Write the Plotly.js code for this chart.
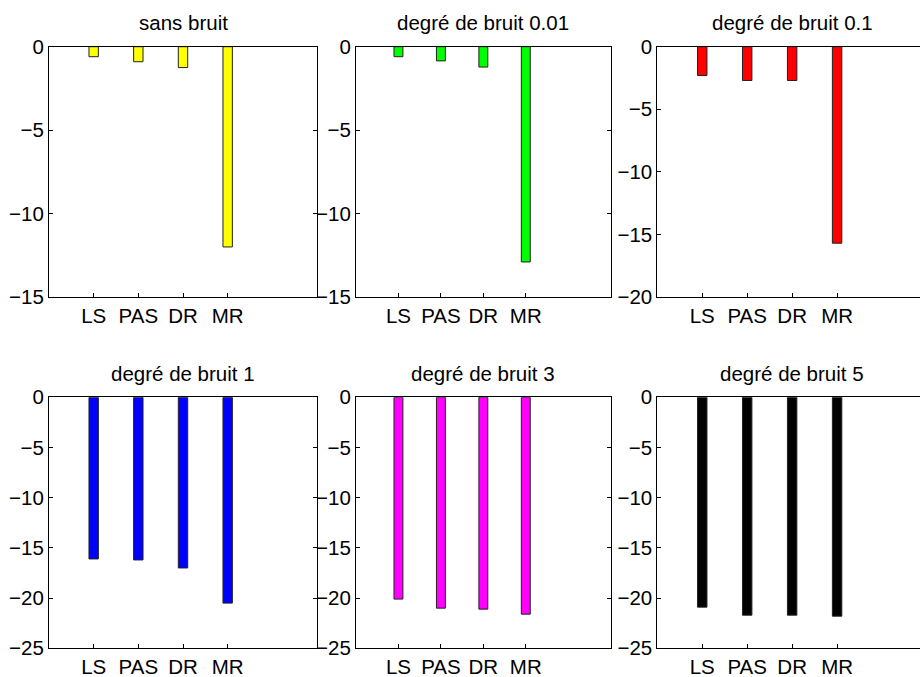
<!DOCTYPE html>
<html>
<head>
<meta charset="utf-8">
<script src="https://cdn.plot.ly/plotly-3.0.1.min.js"></script>
<style>
html,body{margin:0;padding:0;overflow:hidden;background:#fff;width:920px;height:677px;}
#wrap{width:920px;height:677px;overflow:hidden;position:relative;}
#chart{width:930px;height:677px;position:absolute;left:0;top:0;}
</style>
</head>
<body>
<div id="wrap"><div id="chart"></div></div>
<script>
// ---- data ----
const categories = ["LS", "PAS", "DR", "MR"];
const titles = ["sans bruit", "degré de bruit 0.01", "degré de bruit 0.1",
                "degré de bruit 1", "degré de bruit 3", "degré de bruit 5"];
const sansBruit = [-0.6, -0.9, -1.25, -12.0];
const bruit001  = [-0.6, -0.85, -1.22, -12.9];
const bruit01   = [-2.3, -2.7, -2.7, -15.7];
const bruit1    = [-16.1, -16.2, -17.0, -20.5];
const bruit3    = [-20.1, -21.0, -21.1, -21.6];
const bruit5    = [-20.9, -21.7, -21.7, -21.8];
const yMins     = [-15, -15, -20, -25, -25, -25];
const colors    = ["#ffff00", "#00ff00", "#ff0000", "#0000ff", "#ff00ff", "#000000"];

const series = [sansBruit, bruit001, bruit01, bruit1, bruit3, bruit5];

// ---- layout geometry (pixels) ----
const W = 930, H = 677;
const colPx = [[49, 317], [356, 610.7], [657.3, 927]];
const rowPx = [[46.7, 297], [397.3, 648.3]];
const titleY = [22, 373];

const FONT = "Liberation Sans, Arial, Helvetica, sans-serif";

const traces = [];
const layout = {
  width: W, height: H,
  margin: {l: 0, r: 0, t: 0, b: 0},
  paper_bgcolor: "#fff",
  plot_bgcolor: "#fff",
  showlegend: false,
  font: {family: FONT, size: 20.5, color: "#000"},
  annotations: []
};

series.forEach((vals, i) => {
  const r = Math.floor(i / 3), c = i % 3;
  const n = i + 1;
  const xa = "x" + (n === 1 ? "" : n), ya = "y" + (n === 1 ? "" : n);
  traces.push({
    type: "bar",
    x: categories,
    y: vals,
    xaxis: xa, yaxis: ya,
    width: 0.21,
    marker: {color: colors[i], line: {color: "#222", width: 1}},
    hoverinfo: "x+y"
  });
  const axisCommon = {
    showline: true, linecolor: "#000", linewidth: 1,
    ticks: "inside", ticklen: 4, tickcolor: "#000", tickwidth: 1,
    showgrid: false, zeroline: false, fixedrange: true,
    tickfont: {family: FONT, size: 20.5, color: "#000"}
  };
  layout["xaxis" + (n === 1 ? "" : n)] = Object.assign({}, axisCommon, {
    type: "category",
    categoryorder: "array", categoryarray: categories,
    range: [-1, 5],
    mirror: true,
    domain: [colPx[c][0] / W, colPx[c][1] / W],
    anchor: ya
  });
  layout["yaxis" + (n === 1 ? "" : n)] = Object.assign({}, axisCommon, {
    range: [yMins[i], 0],
    dtick: 5, tick0: 0,
    mirror: "ticks",
    domain: [1 - rowPx[r][1] / H, 1 - rowPx[r][0] / H],
    anchor: xa
  });
  layout.annotations.push({
    text: titles[i],
    xref: xa + " domain", x: 0.5, xanchor: "center",
    yref: "paper", y: 1 - titleY[r] / H, yanchor: "middle",
    showarrow: false,
    font: {family: FONT, size: 20.5, color: "#000"}
  });
});

Plotly.newPlot("chart", traces, layout, {displayModeBar: false, staticPlot: true});
</script>
</body>
</html>
